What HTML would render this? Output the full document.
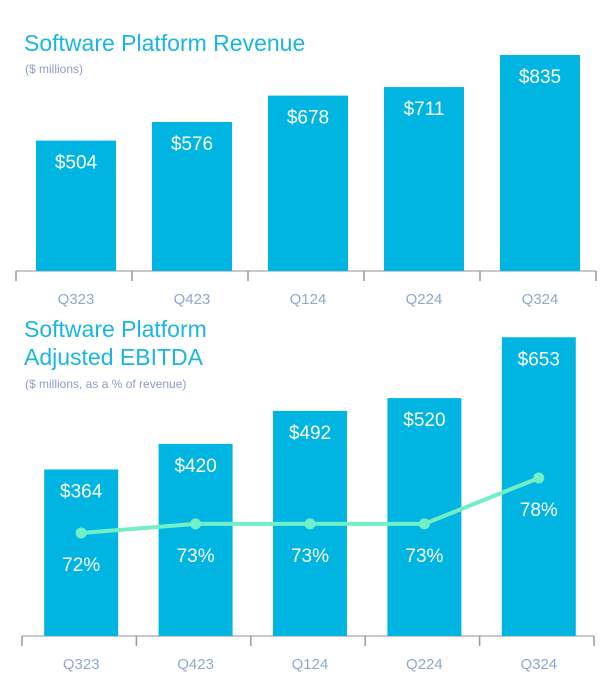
<!DOCTYPE html>
<html><head><meta charset="utf-8"><style>
body{margin:0;background:#fff;width:606px;height:679px;overflow:hidden;font-family:"Liberation Sans",sans-serif}
</style></head><body>
<svg id="c" width="606" height="679">
<text x="24" y="51" font-size="23" fill="#1ab6e0">Software Platform Revenue</text>
<text x="25" y="73" font-size="12" fill="#8e9cc9">($ millions)</text>
<text x="24" y="337" font-size="23" fill="#1ab6e0">Software Platform</text>
<text x="24" y="365" font-size="23" fill="#1ab6e0">Adjusted EBITDA</text>
<text x="25" y="388" font-size="12" fill="#8e9cc9">($ millions, as a % of revenue)</text>
</svg>
<script>
const categories=["Q323","Q423","Q124","Q224","Q324"];
const revenue=[504,576,678,711,835];
const ebitda=[364,420,492,520,653];
const margin=[72,73,73,73,78];
const svg=document.getElementById('c');
const NS="http://www.w3.org/2000/svg";
function mk(t,a,txt){const e=document.createElementNS(NS,t);for(const k in a)e.setAttribute(k,a[k]);if(txt!=null)e.textContent=txt;svg.appendChild(e);return e;}
function chart(vals,x0,x1,base,scale,barW,prefix){
  const band=(x1-x0)/categories.length;
  mk('line',{x1:x0,x2:x1,y1:base,y2:base,stroke:'#c8c8c8','stroke-width':2});
  for(let i=0;i<=categories.length;i++){
    const t=mk('line',{x1:x0+i*band,x2:x0+i*band,y1:base,y2:base+10,stroke:'#999','stroke-width':1.5});
    
    
  }
  vals.forEach((v,i)=>{
    const cx=x0+band*(i+0.5)+2,h=v*scale;
    const r=mk('rect',{x:cx-barW/2,y:base-h,width:barW,height:h,fill:'#00b5e2'});
    
    
    const l=mk('text',{x:cx,y:base-h+28,'text-anchor':'middle','font-size':19,fill:'#fff'},'$'+v);
    
    
    const c=mk('text',{x:cx,y:base+33,'text-anchor':'middle','font-size':15,fill:'#8fa8d0'},categories[i]);
    
    
  });
  return band;
}
chart(revenue,16,596,271,0.2587,80,'revenue');
const band=chart(ebitda,22,594,636,0.4575,74,'ebitda');
function pctY(p){return 533-(p-72)*9.17;}
const pts=margin.map((p,i)=>[24+band*(i+0.5),pctY(p)]);
const pl=mk('polyline',{points:pts.map(p=>p.join(',')).join(' '),fill:'none',stroke:'#72efc6','stroke-width':4});


pts.forEach((p,i)=>{
  const c=mk('circle',{cx:p[0],cy:p[1],r:5.5,fill:'#72efc6'});
  
  
  const t=mk('text',{x:p[0],y:p[1]+38,'text-anchor':'middle','font-size':19,fill:'#fff'},margin[i]+'%');
  
  
});
</script>
</body></html>
